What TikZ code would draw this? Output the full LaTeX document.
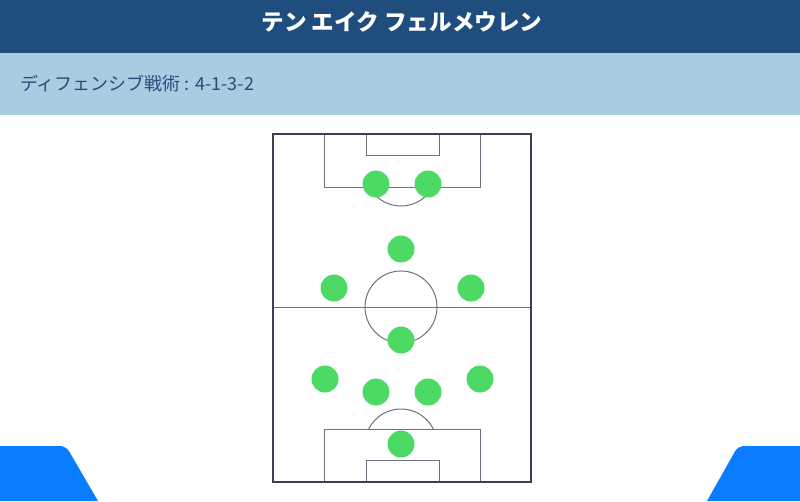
\documentclass[tikz,border=0pt]{standalone}
\usepackage{fontspec}
\newfontfamily\jpfont{Noto Sans CJK JP}
\usetikzlibrary{positioning,calc}
\definecolor{headblue}{RGB}{31,78,126}
\definecolor{subblue}{RGB}{168,204,224}
\definecolor{subtext}{RGB}{43,74,122}
\definecolor{pitchline}{RGB}{110,112,128}
\definecolor{pitchedge}{RGB}{60,63,80}
\definecolor{playergreen}{RGB}{76,217,100}
\definecolor{cornerblue}{RGB}{10,124,255}
\tikzset{
  title/.style  = {text=white, font=\jpfont\bfseries\fontsize{22.6}{26}\selectfont, inner sep=0pt},
  subtitle/.style = {text=subtext, font=\jpfont\fontsize{18}{21}\selectfont, inner sep=0pt, anchor=west},
  line/.style   = {draw=pitchline, line width=1pt},
  edge/.style   = {draw=pitchedge, line width=1.4pt},
  player/.style = {circle, fill=playergreen, minimum size=27pt, inner sep=0pt}
}
\begin{document}
\begin{tikzpicture}[x=1pt,y=-1pt]
\useasboundingbox (0,0) rectangle (800,501);
% header bands
\fill[headblue] (0,0) rectangle (800,53);
\fill[subblue] (0,53) rectangle (800,115);
\node[title] (name) at (402,22) {テン エイク フェルメウレン};
\node[subtitle] (tactic) at (20,84) {ディフェンシブ戦術 : 4-1-3-2};

% corner tabs
\fill[cornerblue] (0,501) -- (0,446) [rounded corners=6pt] -- (66,446) [sharp corners] -- (98,501) -- cycle;
\fill[cornerblue] (800,501) -- (800,446) [rounded corners=6pt] -- (738,446) [sharp corners] -- (707,501) -- cycle;

% pitch
\draw[line] (273,307) -- (531,307);
\draw[line] (401,307) circle (36);
\draw[line] (324,134) rectangle (480,187);
\draw[line] (366,134) rectangle (439,155);
\draw[line] (324,482) rectangle (480,429);
\draw[line] (366,482) rectangle (439,460);
\begin{scope}
  \clip (273,187) rectangle (531,260);
  \draw[line] (401,170) circle (36);
\end{scope}
\begin{scope}
  \clip (273,360) rectangle (531,429);
  \draw[line] (401,445) circle (36);
\end{scope}
\draw[edge] (273,134) rectangle (531,482);

% players
\node[player] (st1) at (376,184) {};
\node[player] (st2) at (428,184) {};
\node[player] (am) at (401,249) {};
\node[player] (lm) at (334,288) {};
\node[player] (rm) at (471,288) {};
\node[player] (dm) at (401,340) {};
\node[player] (lb) at (325,379) {};
\node[player] (lcb) at (376,392) {};
\node[player] (rcb) at (428,392) {};
\node[player] (rb) at (480,379) {};
\node[player] (gk) at (401,444) {};
\end{tikzpicture}
\end{document}
